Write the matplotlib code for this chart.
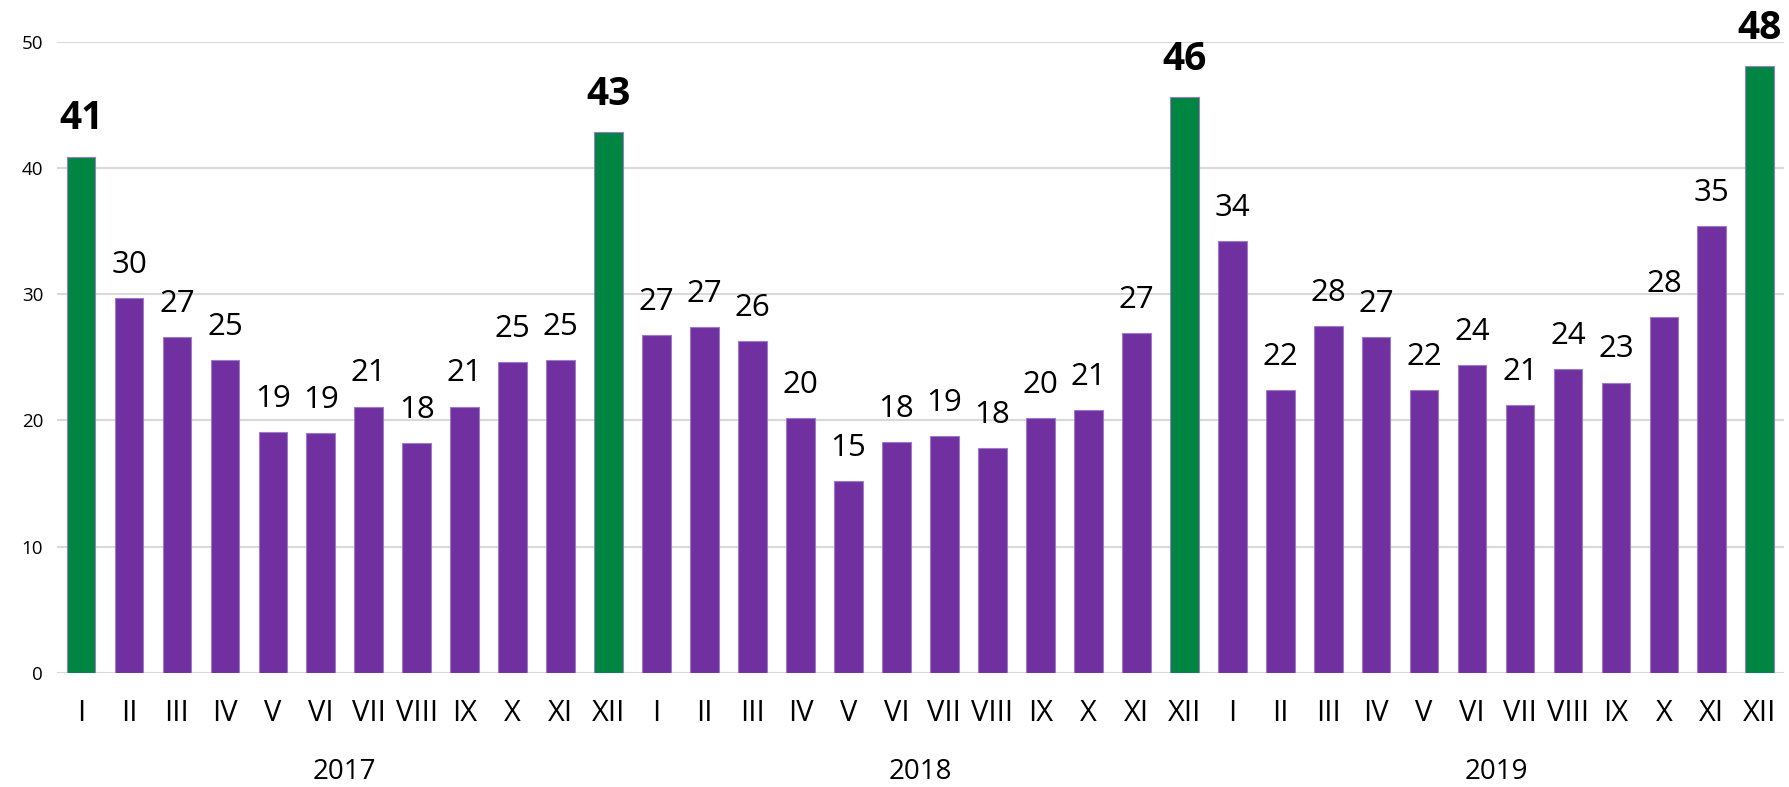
import matplotlib.pyplot as plt
import matplotlib.transforms as mtransforms
import numpy as np

plt.rcParams['font.family'] = ['Open Sans', 'DejaVu Sans']

months = ['I', 'II', 'III', 'IV', 'V', 'VI', 'VII', 'VIII', 'IX', 'X', 'XI', 'XII']
years = ['2017', '2018', '2019']

values_2017 = [40.9, 29.7, 26.6, 24.8, 19.1, 19.0, 21.1, 18.2, 21.1, 24.6, 24.8, 42.85]
values_2018 = [26.8, 27.4, 26.3, 20.2, 15.2, 18.3, 18.8, 17.8, 20.2, 20.8, 26.9, 45.6]
values_2019 = [34.2, 22.4, 27.5, 26.6, 22.4, 24.4, 21.2, 24.1, 23.0, 28.2, 35.4, 48.06]

# bars drawn in green with bold labels (first month and each December)
highlight = [0, 11, 23, 35]

purple = '#7030a0'
green = '#008542'


def main():
    values = values_2017 + values_2018 + values_2019
    labels = months * len(years)
    x = np.arange(len(values))
    is_hl = [i in highlight for i in x]
    colors = [green if h else purple for h in is_hl]

    fig = plt.figure(figsize=(17.89, 7.87), dpi=100)
    ax = fig.add_axes([0.0319, 0.1449, 0.9652, 0.8022])

    ax.bar(x, values, width=0.6, color=colors, edgecolor='#9a7cc8',
           linewidth=0.8, zorder=3)

    for xi, v, h in zip(x, values, is_hl):
        if h:
            ax.annotate(f"{v:.0f}", (xi, v), xytext=(0, 13),
                        textcoords='offset points', ha='center', va='bottom',
                        fontsize=28, fontweight='bold')
        else:
            ax.annotate(f"{v:.0f}", (xi, v), xytext=(0, 13),
                        textcoords='offset points', ha='center', va='bottom',
                        fontsize=22.5)

    ax.set_xlim(-0.5, len(values) - 0.5)
    ax.set_ylim(0, 50)
    ax.set_yticks([0, 10, 20, 30, 40, 50])
    ax.set_xticks(x)
    ax.set_xticklabels(labels)
    ax.tick_params(axis='x', length=0, pad=19, labelsize=21)
    ax.tick_params(axis='y', length=0, pad=10, labelsize=13.5)
    ax.grid(axis='y', color='#d9d9d9', linewidth=1.5, zorder=0)
    for s in ax.spines.values():
        s.set_visible(False)

    trans = mtransforms.blended_transform_factory(ax.transData, ax.transAxes)
    for k, yr in enumerate(years):
        ax.text(k * 12 + 5.5, -0.157, yr, transform=trans, ha='center',
                va='center', fontsize=20)

    fig.savefig('out.png', dpi=100)


if __name__ == "__main__":
    main()
